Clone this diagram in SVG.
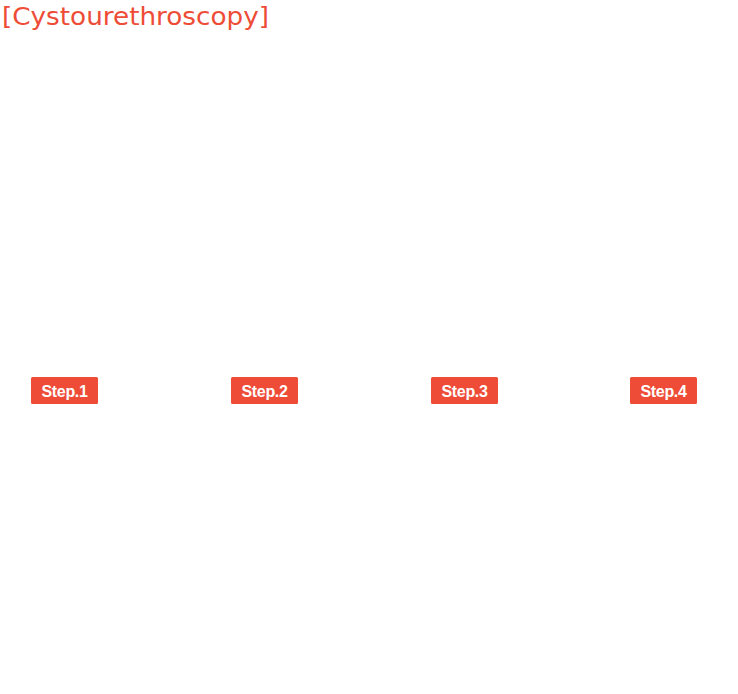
<svg xmlns="http://www.w3.org/2000/svg" width="738" height="694" viewBox="0 0 738 694">
<style>
.title{font-family:"DejaVu Sans","Noto Sans",sans-serif;font-size:24px;fill:#ee4c36}
.badge{fill:#ee4c36}
.bt{font-family:"Liberation Sans",Arial,sans-serif;font-size:16px;font-weight:bold;fill:#ffffff;text-anchor:middle;letter-spacing:-0.3px}
</style>
<rect width="738" height="694" fill="#ffffff"/>
<g id="title"><text class="title" x="2" y="25" textLength="267" lengthAdjust="spacingAndGlyphs">[Cystourethroscopy]</text></g>
<g id="step1"><rect class="badge" x="31" y="377" width="67" height="27" rx="1.5"/><text class="bt" x="64.5" y="396.5">Step.1</text></g>
<g id="step2"><rect class="badge" x="231" y="377" width="67" height="27" rx="1.5"/><text class="bt" x="264.5" y="396.5">Step.2</text></g>
<g id="step3"><rect class="badge" x="431" y="377" width="67" height="27" rx="1.5"/><text class="bt" x="464.5" y="396.5">Step.3</text></g>
<g id="step4"><rect class="badge" x="630" y="377" width="67" height="27" rx="1.5"/><text class="bt" x="663.5" y="396.5">Step.4</text></g>
<g id="connectors"></g>
</svg>
